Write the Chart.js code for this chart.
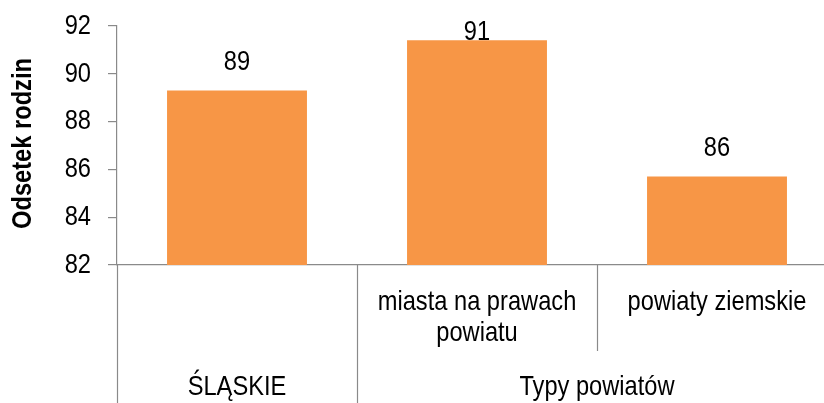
<!DOCTYPE html>
<html>
<head>
<meta charset="utf-8">
<script src="https://cdn.jsdelivr.net/npm/chart.js@4/dist/chart.umd.min.js"></script>
<style>
html, body { margin:0; padding:0; overflow:hidden; background:#fff; }
#wrap { width:837px; height:403px; }
</style>
</head>
<body>
<div id="wrap"><canvas id="c" width="837" height="403"></canvas></div>
<script>
const categories = ['', ['miasta na prawach', 'powiatu'], 'powiaty ziemskie'];
const values = [89.3, 91.4, 85.7];
const groupLabels = ['ŚLĄSKIE', 'Typy powiatów'];
const groupStart = [0, 1];
const groupEnd = [0, 2];
const yMin = 82, yMax = 92, yStep = 2;
const yTitle = 'Odsetek rodzin';

const FONT = "'Liberation Sans', Arial, sans-serif";
const FSIZE = 28;
const NARROW = 0.845;
const AXIS = '#8a8a8a';
const BAR = '#F79646';

function narrowText(ctx, text, x, y, align, bold, rotate) {
  ctx.save();
  ctx.translate(x, y);
  if (rotate) ctx.rotate(-Math.PI / 2);
  ctx.scale(NARROW, 1);
  ctx.font = (bold ? 'bold ' : '') + FSIZE + 'px ' + FONT;
  ctx.fillStyle = '#000';
  ctx.textAlign = align;
  ctx.textBaseline = 'middle';
  ctx.fillText(text, 0, 0);
  ctx.restore();
}

const overlay = {
  id: 'overlay',
  afterDraw(chart) {
    const ctx = chart.ctx;
    const x = chart.scales.x, y = chart.scales.y, area = chart.chartArea;
    const bottom = chart.height;
    const level1Bottom = area.bottom + 86;
    ctx.save();
    // divider lines of the two-level category axis
    ctx.strokeStyle = AXIS;
    ctx.lineWidth = 1.2;
    for (let i = 0; i <= categories.length; i++) {
      const px = Math.round(x.getPixelForValue(i - 0.5)) + 0.5;
      const isGroupEdge = groupStart.includes(i) || i === categories.length;
      ctx.beginPath();
      ctx.moveTo(px, area.bottom);
      ctx.lineTo(px, isGroupEdge ? bottom : level1Bottom);
      ctx.stroke();
    }
    ctx.restore();
    // y tick labels
    y.ticks.forEach(t => {
      narrowText(ctx, String(t.value), y.right - 9 - 17, y.getPixelForValue(t.value), 'right', false, false);
    });
    // y title
    narrowText(ctx, yTitle, 23, (area.top + area.bottom) / 2 - 2, 'center', true, true);
    // first-level category labels
    categories.forEach((lab, i) => {
      const lines = Array.isArray(lab) ? lab : [lab];
      lines.forEach((ln, j) => {
        narrowText(ctx, ln, x.getPixelForValue(i), area.bottom + 37 + j * 31, 'center', false, false);
      });
    });
    // group labels
    groupLabels.forEach((g, k) => {
      const cx = (x.getPixelForValue(groupStart[k]) + x.getPixelForValue(groupEnd[k])) / 2;
      narrowText(ctx, g, cx, area.bottom + 122, 'center', false, false);
    });
    // value labels
    const meta = chart.getDatasetMeta(0);
    meta.data.forEach((bar, i) => {
      const yy = Math.max(bar.y - 28, area.top + 6);
      narrowText(ctx, String(Math.round(values[i])), bar.x, yy, 'center', false, false);
    });
  }
};

new Chart(document.getElementById('c'), {
  type: 'bar',
  data: {
    labels: categories,
    datasets: [{
      data: values,
      backgroundColor: BAR,
      borderWidth: 0,
      categoryPercentage: 1,
      barPercentage: 0.583
    }]
  },
  options: {
    responsive: false,
    animation: false,
    devicePixelRatio: 1,
    layout: { padding: { top: 26, right: 0, bottom: 0, left: 0 } },
    plugins: { legend: { display: false }, tooltip: { enabled: false } },
    scales: {
      x: {
        type: 'category',
        grid: { display: false, drawTicks: false },
        border: { display: true, color: AXIS, width: 1.2 },
        ticks: { display: false },
        afterFit(s) { s.height = 138; s.paddingLeft = 0; s.paddingRight = 0; }
      },
      y: {
        min: yMin, max: yMax,
        grid: { display: true, drawOnChartArea: false, drawTicks: true, tickLength: 9, color: AXIS, lineWidth: 1.2 },
        border: { display: true, color: AXIS, width: 1.2 },
        ticks: { stepSize: yStep, display: false },
        title: { display: false, text: yTitle },
        afterFit(s) { s.width = 117; s.paddingTop = 0; s.paddingBottom = 0; }
      }
    }
  },
  plugins: [overlay]
});
</script>
</body>
</html>
